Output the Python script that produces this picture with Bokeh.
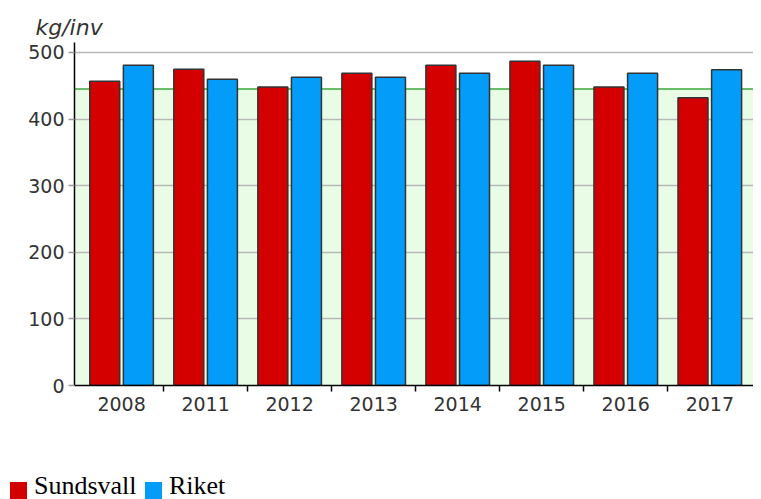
from bokeh.plotting import figure
from bokeh.layouts import column
from bokeh.models import FixedTicker, Span, BoxAnnotation, ColumnDataSource, Div
from bokeh.embed import file_html
from bokeh.resources import INLINE
import numpy as np

years = ["2008", "2011", "2012", "2013", "2014", "2015", "2016", "2017"]
sundsvall = [457, 475, 448, 469, 481, 487, 448, 432]
riket = [481, 460, 463, 463, 469, 481, 469, 474]
series_names = ["Sundsvall", "Riket"]
reference_level = 445
y_ticks = [0, 100, 200, 300, 400, 500]

RED = "#d40000"
BLUE = "#039cf8"
colors = [RED, BLUE]

n = len(years)
centers = np.arange(n) + 0.5
src = ColumnDataSource(dict(
    xs=centers - 0.2, xr=centers + 0.2, s=sundsvall, r=riket))

p = figure(width=753, height=425, output_backend="svg", toolbar_location=None,
           x_range=(-0.06, 8.02), y_range=(0, 515),
           min_border_left=74, min_border_top=42, min_border_right=0, min_border_bottom=40)
p.outline_line_color = None
p.background_fill_color = "white"
p.border_fill_color = "white"

p.add_layout(BoxAnnotation(bottom=0, top=reference_level, fill_color="#e9fce6", fill_alpha=1,
                           line_alpha=0, level="image"))
p.add_layout(Span(location=reference_level, dimension="width", line_color="#3aa83a",
                  line_width=1.5, level="underlay"))

bar_kw = dict(width=0.357, source=src, line_color="#333333", line_width=1.5)
p.vbar(x="xs", top="s", fill_color=RED, **bar_kw)
p.vbar(x="xr", top="r", fill_color=BLUE, **bar_kw)

# grid
p.xgrid.visible = False
p.ygrid.ticker = FixedTicker(ticks=y_ticks)
p.ygrid.grid_line_color = "#b8b8b8"
p.ygrid.grid_line_width = 1.5

# y axis
ya = p.yaxis[0]
ya.ticker = FixedTicker(ticks=y_ticks)
ya.axis_line_color = "black"
ya.axis_line_width = 1.5
ya.major_tick_line_color = "#999999"
ya.major_tick_line_width = 1.5
ya.major_tick_out = 6
ya.major_tick_in = 0
ya.minor_tick_line_color = None
ya.major_label_text_font = "DejaVu Sans"
ya.major_label_text_font_size = "19px"
ya.major_label_text_color = "#333333"
ya.major_label_standoff = 4

# x axis
xa = p.xaxis[0]
xa.ticker = FixedTicker(ticks=list(centers), minor_ticks=list(np.arange(1, n)))
xa.major_label_overrides = {float(c): y for c, y in zip(centers, years)}
xa.axis_line_color = "black"
xa.axis_line_width = 1.5
xa.major_tick_out = 0
xa.major_tick_in = 0
xa.minor_tick_out = 6
xa.minor_tick_in = 0
xa.minor_tick_line_color = "black"
xa.minor_tick_line_width = 1.5
xa.major_label_text_font = "DejaVu Sans"
xa.major_label_text_font_size = "19px"
xa.major_label_text_color = "#333333"
xa.major_label_standoff = 5

# unit title
p.title.text = "kg/inv"
p.title.text_font = "DejaVu Sans"
p.title.text_font_style = "italic"
p.title.text_font_size = "22px"
p.title.text_color = "#333333"
p.title.align = "left"
p.title.offset = -39
p.title.standoff = 6

# HTML legend strip below the chart
swatch_left = [10, 145]
parts = []
for name, col, left in zip(series_names, colors, swatch_left):
    parts.append(
        f'<span style="position:absolute;left:{left}px;top:57px;width:17px;height:17px;'
        f'background:{col};"></span>'
        f'<span style="position:absolute;left:{left + 24}px;top:46px;line-height:30px;'
        f'font-family:\'Liberation Serif\';font-size:26px;color:black;white-space:nowrap;">{name}</span>')
legend_div = Div(text='<div style="position:relative;width:753px;height:74px;">' + "".join(parts) + '</div>',
                 width=753, height=74, margin=0)

open("out.html", "w").write(file_html(column(p, legend_div, spacing=0), INLINE))
